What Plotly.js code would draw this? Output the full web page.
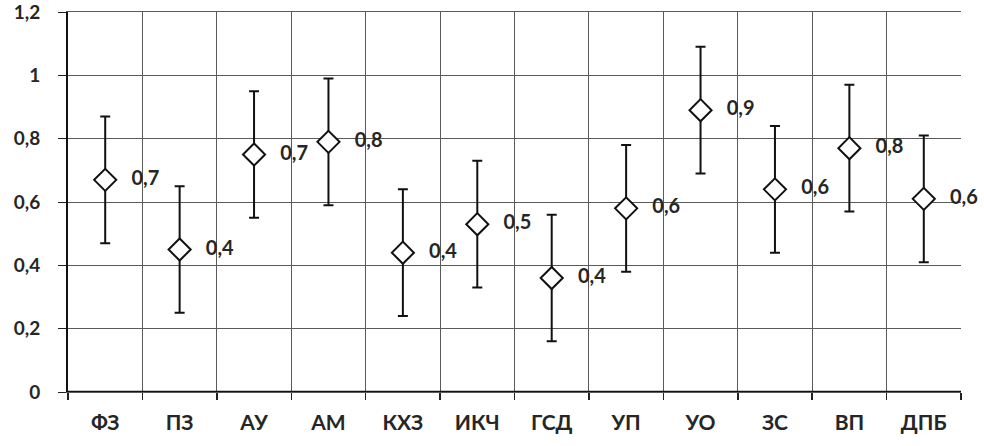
<!DOCTYPE html>
<html>
<head>
<meta charset="utf-8">
<script src="https://cdn.plot.ly/plotly-3.0.1.min.js"></script>
<style>
  html, body { margin: 0; padding: 0; background: #fff; }
  #chart { width: 984px; height: 446px; }
</style>
</head>
<body>
<div id="chart"></div>
<script>
// categories and values
var categories = ['ФЗ', 'ПЗ', 'АУ', 'АМ', 'КХЗ', 'ИКЧ', 'ГСД', 'УП', 'УО', 'ЗС', 'ВП', 'ДПБ'];
var means = [0.67, 0.45, 0.75, 0.79, 0.44, 0.53, 0.36, 0.58, 0.89, 0.64, 0.77, 0.61];
var errors = [0.2, 0.2, 0.2, 0.2, 0.2, 0.2, 0.2, 0.2, 0.2, 0.2, 0.2, 0.2];
var labels = ['0,7', '0,4', '0,7', '0,8', '0,4', '0,5', '0,4', '0,6', '0,9', '0,6', '0,8', '0,6'];
var yTicks = [0, 0.2, 0.4, 0.6, 0.8, 1, 1.2];

var fontFamily = 'Lato, "Open Sans", sans-serif';
var textColor = '#262626';

var trace = {
    x: categories,
    y: means,
    type: 'scatter',
    mode: 'markers+text',
    text: labels,
    texttemplate: '   %{text}',
    textposition: 'middle right',
    textfont: { family: fontFamily, size: 20, color: textColor, weight: 'bold' },
    cliponaxis: false,
    marker: {
        symbol: 'diamond',
        size: 17,
        color: '#fff',
        line: { color: '#111', width: 2 }
    },
    error_y: {
        type: 'data',
        array: errors,
        visible: true,
        color: '#111',
        thickness: 2,
        width: 5
    },
    hoverinfo: 'x+y'
};

var layout = {
    width: 984,
    height: 446,
    margin: { l: 68, r: 23, t: 12, b: 54 },
    paper_bgcolor: '#fff',
    plot_bgcolor: '#fff',
    separators: ', ',
    showlegend: false,
    font: { family: fontFamily, size: 20, color: textColor, weight: 'bold' },
    xaxis: {
        type: 'category',
        range: [-0.5, categories.length - 0.5],
        tickson: 'boundaries',
        showgrid: true,
        gridcolor: '#5a5a5a',
        gridwidth: 1,
        ticks: 'outside',
        ticklen: 7,
        tickcolor: '#222',
        tickwidth: 1.5,
        ticklabelstandoff: 12,
        showline: true,
        linecolor: '#5a5a5a',
        linewidth: 1,
        mirror: true,
        tickfont: { family: fontFamily, size: 21, color: textColor, weight: 'bold' },
        fixedrange: true
    },
    yaxis: {
        range: [0, 1.2001],
        tickvals: yTicks,
        showgrid: true,
        gridcolor: '#5a5a5a',
        gridwidth: 1,
        zeroline: false,
        showline: true,
        linecolor: '#111',
        linewidth: 2,
        ticks: 'outside',
        ticklen: 8,
        tickcolor: '#222',
        tickwidth: 1,
        ticklabelstandoff: 14,
        ticklabeloverflow: 'allow',
        tickfont: { family: fontFamily, size: 19, color: textColor, weight: 'bold' },
        fixedrange: true
    },
    shapes: [{
        type: 'line', xref: 'paper', yref: 'y',
        x0: 0, x1: 1, y0: 0, y1: 0,
        line: { color: '#111', width: 2.5 }
    }]
};

Plotly.newPlot('chart', [trace], layout, { displayModeBar: false, staticPlot: true });
</script>
</body>
</html>
